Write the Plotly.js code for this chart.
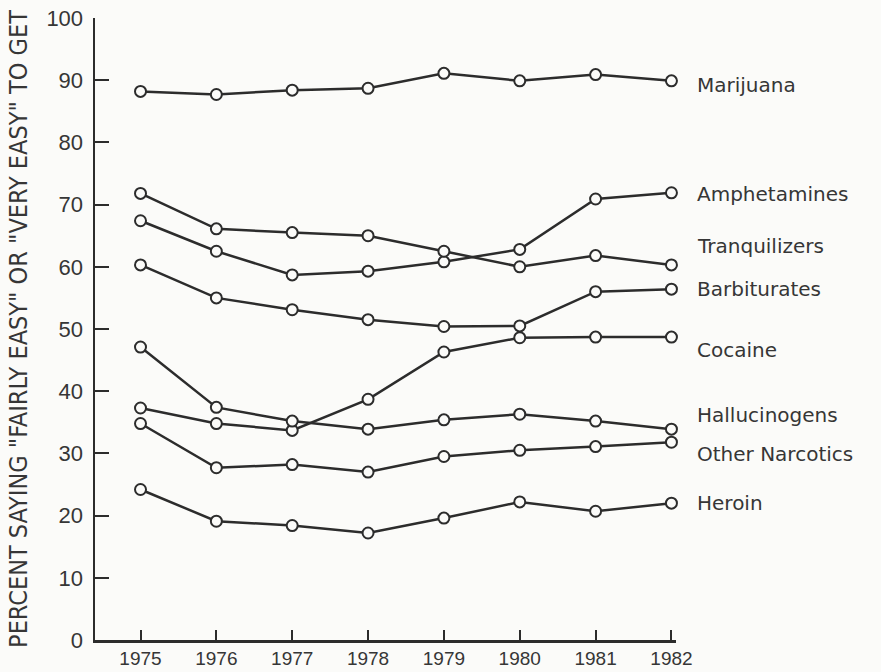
<!DOCTYPE html>
<html>
<head>
<meta charset="utf-8">
<script src="https://cdn.plot.ly/plotly-3.0.1.min.js"></script>
<style>
  html, body { margin: 0; padding: 0; background: #fbfbf9; }
  #chart { width: 881px; height: 672px; }
</style>
</head>
<body>
<div id="chart"></div>
<script>
// ---- Data ----
const years = [1975, 1976, 1977, 1978, 1979, 1980, 1981, 1982];
const yearLabels = ["1975", "1976", "1977", "1978", "1979", "1980", "1981", "1982"];

const marijuana      = [88.2, 87.7, 88.4, 88.7, 91.1, 89.9, 90.9, 89.9];
const amphetamines   = [67.4, 62.5, 58.7, 59.3, 60.8, 62.8, 70.9, 71.9];
const tranquilizers  = [71.8, 66.1, 65.5, 65.0, 62.5, 60.0, 61.8, 60.3];
const barbiturates   = [60.3, 55.0, 53.1, 51.5, 50.4, 50.5, 56.0, 56.4];
const cocaine        = [37.3, 34.8, 33.7, 38.7, 46.3, 48.6, 48.7, 48.7];
const hallucinogens  = [47.1, 37.4, 35.2, 33.9, 35.4, 36.3, 35.2, 33.9];
const otherNarcotics = [34.8, 27.7, 28.2, 27.0, 29.5, 30.5, 31.1, 31.8];
const heroin         = [24.2, 19.1, 18.4, 17.2, 19.6, 22.2, 20.7, 22.0];

const seriesNames = ["Marijuana", "Amphetamines", "Tranquilizers", "Barbiturates",
                     "Cocaine", "Hallucinogens", "Other Narcotics", "Heroin"];
const seriesValues = [marijuana, amphetamines, tranquilizers, barbiturates,
                      cocaine, hallucinogens, otherNarcotics, heroin];

const yTickVals = [0, 10, 20, 30, 40, 50, 60, 70, 80, 90, 100];
const yTickText = ["0", "10", "20", "30", "40", "50", "60", "70", "80", "90", "100"];

// ---- Styling ----
const ink = "#2c2c2c";
const textInk = "#363636";
const bg = "#fbfbf9";
// vertical pixel offsets of the end labels relative to each series' last point
const labelShift = [-4, -1, 19, 0, -13, 14, -12, 0];

const traces = seriesValues.map((vals, i) => ({
  type: "scatter",
  mode: "lines+markers",
  x: years,
  y: vals,
  name: seriesNames[i],
  line: { color: ink, width: 2.5 },
  marker: { symbol: "circle", size: 11, color: bg, line: { color: ink, width: 2 } },
  cliponaxis: false,
  hoverinfo: "x+y+name"
}));

const annotations = seriesValues.map((vals, i) => ({
  x: years[years.length - 1],
  y: vals[vals.length - 1],
  xref: "x",
  yref: "y",
  text: seriesNames[i],
  showarrow: false,
  xanchor: "left",
  yanchor: "middle",
  xshift: 24,
  yshift: labelShift[i],
  font: { family: "DejaVu Sans, Verdana, sans-serif", size: 20, color: textInk }
}));

const layout = {
  width: 881,
  height: 672,
  paper_bgcolor: bg,
  plot_bgcolor: bg,
  showlegend: false,
  margin: { l: 95, r: 205, t: 18, b: 32 },
  xaxis: {
    range: [1974.4, 1982.06],
    tickvals: years,
    ticktext: yearLabels,
    ticks: "inside",
    ticklen: 10,
    tickwidth: 2,
    tickcolor: ink,
    showline: true,
    linecolor: ink,
    linewidth: 2.5,
    showgrid: false,
    zeroline: false,
    ticklabelstandoff: 0,
    tickfont: { family: "Liberation Sans, Arial, sans-serif", size: 19, color: textInk }
  },
  yaxis: {
    range: [0, 100],
    tickvals: yTickVals,
    ticktext: yTickText,
    ticks: "inside",
    ticklen: 14,
    tickwidth: 2,
    tickcolor: ink,
    showline: true,
    linecolor: ink,
    linewidth: 2.5,
    showgrid: false,
    zeroline: false,
    ticklabelstandoff: 5,
    tickfont: { family: "Liberation Sans, Arial, sans-serif", size: 22, color: textInk },
    title: {
      text: 'PERCENT SAYING "FAIRLY EASY" OR "VERY EASY" TO GET',
      font: { family: "Liberation Sans Narrow, DejaVu Sans Condensed, Arial Narrow, sans-serif", size: 25, color: textInk },
      standoff: 12
    }
  },
  annotations: annotations
};

Plotly.newPlot("chart", traces, layout, { displayModeBar: false, staticPlot: true });
</script>
</body>
</html>
